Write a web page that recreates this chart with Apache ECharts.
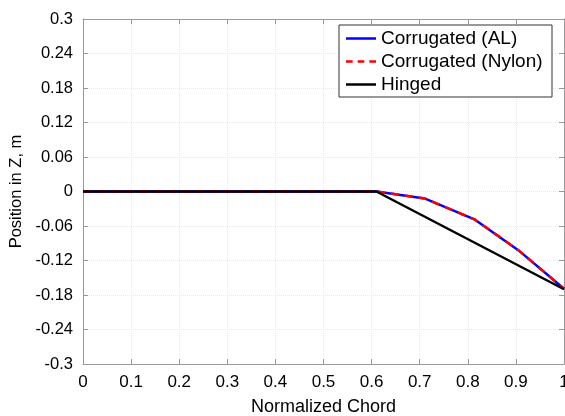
<!DOCTYPE html>
<html><head><meta charset="utf-8">
<script src="https://cdn.jsdelivr.net/npm/echarts@6/dist/echarts.min.js"></script>
<style>html,body{margin:0;padding:0;background:#fff;}#c{width:565px;height:416px;}</style>
</head><body><div id="c"></div>
<script>
var corrX = [0, 0.61, 0.71, 0.815, 0.905, 1];
var corrAL = [0, 0, -0.012, -0.049, -0.102, -0.169];
var corrNylon = [0, 0, -0.012, -0.049, -0.102, -0.169];
var hingeX = [0, 0.61, 1];
var hingeY = [0, 0, -0.17];
var seriesNames = ['Corrugated (AL)', 'Corrugated (Nylon)', 'Hinged'];

function pairs(xs, ys){ return xs.map(function(x,i){return [x, ys[i]];}); }
var font = 'Liberation Sans, Arial, Helvetica, sans-serif';
var fmt = function(v){ return String(parseFloat(v.toFixed(2))); };
var chart = echarts.init(document.getElementById('c'));
var axBase = {
  axisLine: {show: true, onZero: false, lineStyle: {color: '#999', width: 1}},
  axisTick: {show: true, inside: true, length: 5, lineStyle: {color: '#999'}},
  splitLine: {show: false}
};
var solidIcon = 'path://M0,0h36v3h-36z';
var dashIcon = 'path://M0,0h8v3h-8z M14,0h8v3h-8z M28,0h8v3h-8z';
chart.setOption({
  animation: false,
  textStyle: {fontFamily: font},
  grid: {left: 83, right: 1, top: 19, bottom: 52, containLabel: false, outerBoundsMode: 'none'},
  legend: {
    data: [
      {name: seriesNames[0], icon: solidIcon},
      {name: seriesNames[1], icon: dashIcon},
      {name: seriesNames[2], icon: solidIcon}
    ],
    orient: 'vertical', right: 13, top: 25,
    backgroundColor: '#fff', borderColor: '#333', borderWidth: 1,
    padding: [3, 5, 2, 7], itemGap: 2, itemWidth: 36, itemHeight: 2.5,
    textStyle: {fontFamily: font, fontSize: 19, color: '#000', padding: [0,0,0,-3], lineHeight: 21, width: 166}
  },
  xAxis: [
    Object.assign({}, axBase, {type: 'value', min: 0, max: 1, interval: 0.1, position: 'bottom',
      name: 'Normalized Chord', nameLocation: 'middle', nameGap: 34,
      nameTextStyle: {fontSize: 18, color: '#000', fontFamily: font},
      axisLabel: {formatter: fmt, fontSize: 17, color: '#000', margin: 10, fontFamily: font},
      splitLine: {show: true, lineStyle: {color: '#e8e8e8', type: 'dotted', width: 1}}}),
    Object.assign({}, axBase, {type: 'value', min: 0, max: 1, interval: 0.1, position: 'top',
      axisLabel: {show: false}})
  ],
  yAxis: [
    Object.assign({}, axBase, {type: 'value', min: -0.3, max: 0.3, interval: 0.06, position: 'left',
      name: 'Position in Z, m', nameLocation: 'middle', nameGap: 55, nameRotate: 90,
      nameTextStyle: {fontSize: 16.5, color: '#000', fontFamily: font},
      axisLabel: {formatter: fmt, fontSize: 16.5, color: '#000', margin: 10, fontFamily: font},
      splitLine: {show: true, lineStyle: {color: '#e8e8e8', type: 'dotted', width: 1}}}),
    Object.assign({}, axBase, {type: 'value', min: -0.3, max: 0.3, interval: 0.06, position: 'right',
      axisLabel: {show: false}})
  ],
  series: [
    {name: seriesNames[0], type: 'line', data: pairs(corrX, corrAL), symbol: 'none',
     lineStyle: {color: '#0000ff', width: 2.5}, itemStyle: {color: '#0000ff'}, z: 3},
    {name: seriesNames[1], type: 'line', data: pairs(corrX, corrNylon), symbol: 'none',
     lineStyle: {color: '#ff0000', width: 2.5, type: [8, 6]}, itemStyle: {color: '#ff0000'}, z: 4},
    {name: seriesNames[2], type: 'line', data: pairs(hingeX, hingeY), symbol: 'none',
     lineStyle: {color: '#000', width: 2.5}, itemStyle: {color: '#000'}, z: 5}
  ]
});
</script></body></html>
